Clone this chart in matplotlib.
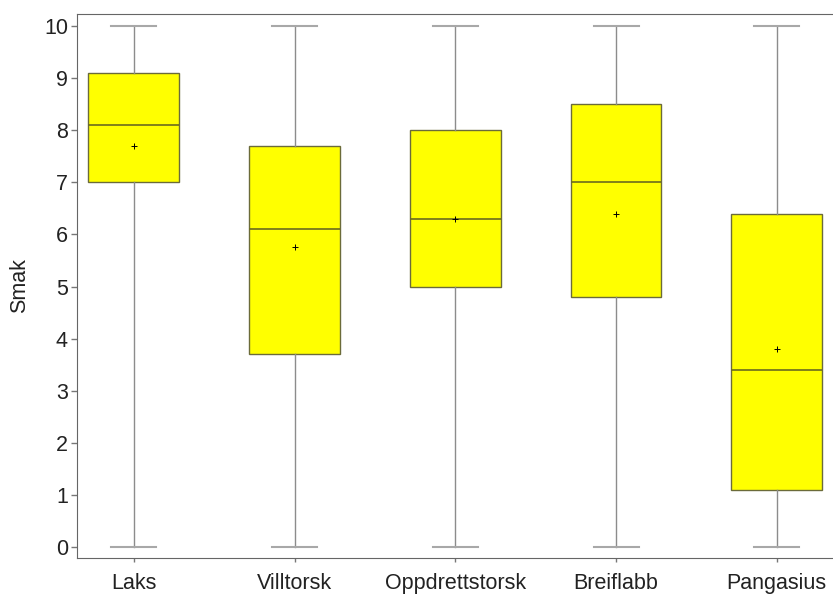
import matplotlib
matplotlib.use("Agg")
import matplotlib.pyplot as plt

categories = ["Laks", "Villtorsk", "Oppdrettstorsk", "Breiflabb", "Pangasius"]
whislo = [0, 0, 0, 0, 0]
q1 = [7.0, 3.7, 5.0, 4.8, 1.1]
med = [8.1, 6.1, 6.3, 7.0, 3.4]
q3 = [9.1, 7.7, 8.0, 8.5, 6.4]
whishi = [10, 10, 10, 10, 10]
means = [7.7, 5.75, 6.3, 6.4, 3.8]
yticks = list(range(0, 11))

plt.rcParams['font.family'] = ['Liberation Sans', 'DejaVu Sans']

fig = plt.figure(figsize=(8.33, 5.95), dpi=100)
ax = fig.add_axes([0.0924, 0.0622, 0.9076, 0.9143])

stats = []
for i, c in enumerate(categories):
    stats.append(dict(label=c, whislo=whislo[i], q1=q1[i], med=med[i], q3=q3[i],
                      whishi=whishi[i], mean=means[i], fliers=[]))

pos = list(range(len(categories)))
ax.bxp(stats, positions=pos, widths=0.565, showmeans=True, patch_artist=True,
       boxprops=dict(facecolor='#ffff00', edgecolor='#6b6b3a', linewidth=1.0),
       medianprops=dict(color='#6b6b1f', linewidth=1.2),
       whiskerprops=dict(color='#8c8c8c', linewidth=1.0),
       capprops=dict(color='#a8a8a8', linewidth=1.5),
       capwidths=0.28,
       meanprops=dict(marker='+', markeredgecolor='black', markersize=4, markeredgewidth=0.7))

ax.set_xlim(-0.354, 4.35)
ax.set_ylim(-0.21, 10.23)
ax.set_yticks(yticks)
ax.set_xticks(pos)
ax.set_xticklabels(categories)
ax.set_ylabel("Smak", fontsize=15.5, color='#222222', labelpad=10)
ax.tick_params(axis='both', labelsize=15.5, colors='#222222', direction='out', width=1)
ax.tick_params(axis='y', length=4, pad=2.5)
ax.tick_params(axis='x', length=3, pad=8)
ax.tick_params(axis='both', color='#777777')
for s in ['left', 'bottom', 'top']:
    ax.spines[s].set_color('#666666')
ax.spines['right'].set_visible(False)

fig.savefig("out.png", dpi=100)
